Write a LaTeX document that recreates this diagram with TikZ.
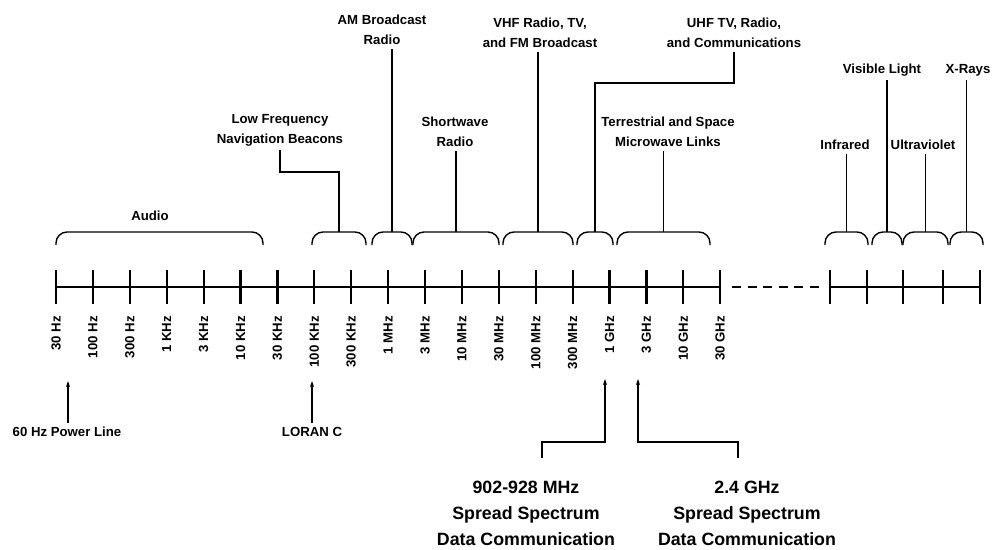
\documentclass[tikz,border=0pt]{standalone}
\usepackage{fontspec}
\setmainfont{Liberation Sans}
\usetikzlibrary{arrows.meta}
\begin{document}
\begin{tikzpicture}[x=1pt,y=-1pt,font=\fontsize{13.2}{20}\selectfont\bfseries,
  lbl/.style={align=center,inner sep=4pt},
  brc/.style={line width=1.4pt,rounded corners=11pt},
  stem/.style={line width=1.1pt},
  arr/.style={line width=1.1pt,-{Stealth[length=6pt,width=4pt]}},
  big/.style={align=center,font=\fontsize{17.8}{26}\selectfont\bfseries}]
\useasboundingbox (0,0) rectangle (993,549);
\draw[line width=1.3pt] (56,287)--(720,287);
\draw[line width=1.3pt] (830,287)--(980,287);
\draw[line width=1.3pt,dash pattern=on 9pt off 6.5pt] (732,287)--(822,287);
\foreach \t [count=\i from 0] in {30 Hz,100 Hz,300 Hz,1 KHz,3 KHz,10 KHz,30 KHz,100 KHz,300 KHz,1 MHz,3 MHz,10 MHz,30 MHz,100 MHz,300 MHz,1 GHz,3 GHz,10 GHz,30 GHz} {
  \draw[line width=2.2pt] ({56+36.9*\i},270)--({56+36.9*\i},304);
  \node[rotate=90,anchor=east,inner sep=0pt,font=\fontsize{13.2}{14}\selectfont\bfseries] (f\i) at ({56+36.9*\i},316) {\t};
}
\foreach \x in {830,867,903,943,980} \draw[line width=2.2pt] (\x,270)--(\x,304);
\foreach \a/\b/\n in {56/263/au,312/366/lf,372/412/am,413/499/sw,503/573/vhf,577/613/uhf,617/710/mw,825/868/ir,872/902/vl,903/948/uv,950/983/xr} {
  \draw[brc] (\a,245)--(\a,232)--(\b,232)--(\b,245);
  \coordinate (b\n) at ({(\a+\b)/2},232);
}
\node[lbl] (au) at (150,216) {Audio};
\node[lbl] (lf) at (280,130) {Low Frequency\\Navigation Beacons};
\node[lbl] (am) at (382,30) {AM Broadcast\\Radio};
\node[lbl] (sw) at (455,132) {Shortwave\\Radio};
\node[lbl] (vhf) at (540,33) {VHF Radio, TV,\\and FM Broadcast};
\node[lbl] (uhf) at (734,33) {UHF TV, Radio,\\and Communications};
\node[lbl] (mw) at (668,132) {Terrestrial and Space\\Microwave Links};
\node[lbl] (ir) at (845,145) {Infrared};
\node[lbl] (vl) at (882,70) {Visible Light};
\node[lbl] (uv) at (923,145) {Ultraviolet};
\node[lbl] (xr) at (968,70) {X-Rays};
\draw[stem] (blf)--++(0,-60) -| (lf.south);
\draw[stem] (bam)--(bam |- am.south);
\draw[stem] (bsw)--(bsw |- sw.south);
\draw[stem] (bvhf)--(bvhf |- vhf.south);
\draw[stem] (buhf)--++(0,-149) -| (uhf.south);
\draw[stem] (bmw)--(bmw |- mw.south);
\draw[stem] (bir)--(bir |- ir.south);
\draw[stem] (bvl)--(bvl |- vl.south);
\draw[stem] (buv)--(buv |- uv.south);
\draw[stem] (bxr)--(bxr |- xr.south);
\node[lbl] (pl) at (67,432) {60 Hz Power Line};
\node[lbl] (lc) at (312,432) {LORAN C};
\coordinate (tpl) at (68,381);
\coordinate (tlc) at (312,381);
\draw[arr] (pl.north -| tpl)--(tpl);
\draw[arr] (lc.north -| tlc)--(tlc);
\node[big] (ss1) at (526,513) {902-928 MHz\\Spread Spectrum\\Data Communication};
\node[big] (ss2) at (747,513) {2.4 GHz\\Spread Spectrum\\Data Communication};
\coordinate (t1) at (605,379);
\coordinate (t2) at (638,379);
\coordinate (k1) at (542,458);
\coordinate (k2) at (738,458);
\draw[arr] (k1)--++(0,-16) -| (t1);
\draw[arr] (k2)--++(0,-16) -| (t2);
\end{tikzpicture}
\end{document}
